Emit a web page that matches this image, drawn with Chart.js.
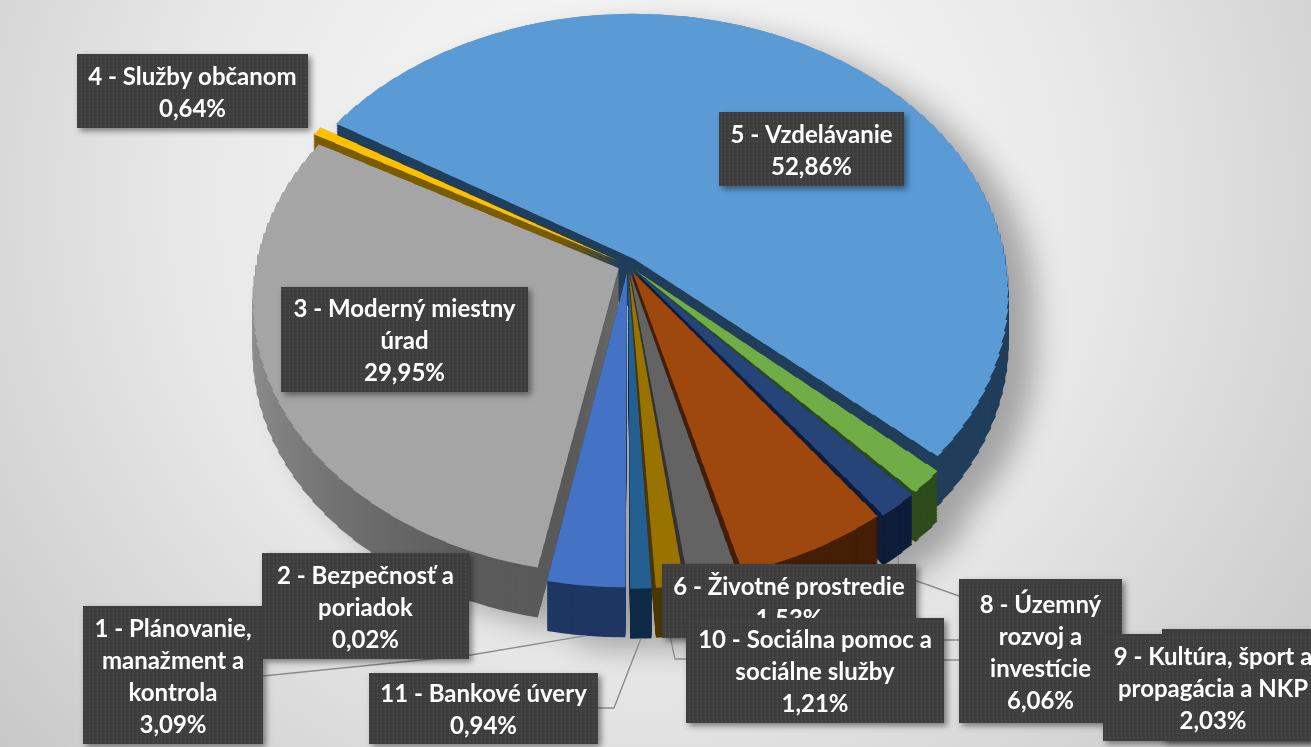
<!DOCTYPE html>
<html lang="sk">
<head>
<meta charset="utf-8">
<title>Výdavky podľa programov</title>
<script src="https://cdn.jsdelivr.net/npm/chart.js@4.4.1/dist/chart.umd.min.js"></script>
<style>
html,body{margin:0;padding:0;overflow:hidden;background:#e9e9e9;}
canvas{display:block;}
</style>
</head>
<body>
<canvas id="chart" width="1311" height="747"></canvas>
<script>
// ---------- data ----------
const categories = [
  "1 - Plánovanie,\nmanažment a\nkontrola",
  "2 - Bezpečnosť a\nporiadok",
  "3 - Moderný miestny\núrad",
  "4 - Služby občanom",
  "5 - Vzdelávanie",
  "6 - Životné prostredie",
  "7 - Doprava",
  "8 - Územný\nrozvoj a\ninvestície",
  "9 - Kultúra, šport a\npropagácia a NKP",
  "10 - Sociálna pomoc a\nsociálne služby",
  "11 - Bankové úvery"
];
const shares = [3.09, 0.02, 29.95, 0.64, 52.86, 1.53, 1.67, 6.06, 2.03, 1.21, 0.94];

// ---------- style ----------
const topColors  = ['#4472C4','#ED7D31','#A5A5A5','#FFC000','#5B9BD5','#70AD47','#264478','#9E480E','#636363','#997300','#255E91'];
const wallColors = ['#1f3763','#7b3d17','#7e7e7e','#7a5c00','#213f5b','#2e4c1d','#0f1d3b','#451f06','#363636','#4b3900','#0f2a47'];
const wallGradients = {2: ['#959595', '#5a5a5a']};
// label boxes: [left, top, width, height]
const labelBoxes = [
  [83,606,180,138], [262,553,207,106], [281,287,247,105], [77,54,231,74],
  [719,112,185,74], [662,564,254,74], [1162,629,170,112], [959,579,163,144],
  [1103,634,220,107], [686,618,258,105], [369,673,229,71]
];
// leader line bends (after the slice anchor)
const leaderPaths = {
  0: [[471,655],[263,676]],
  6: [[900,640],[1162,640]],
  7: [[917,581],[959,596]],
  8: [[725,660],[1103,660]],
  9: [[675,659],[686,659]],
  10: [[614,708],[598,708]]
};
const VIEW = {cx: 628, cy: 265, a: 362, e: 237.4, h: -0.118, depth: 50};
const EXPLODE = 40;
const FONT = 'bold 24px Lato, "Open Sans", sans-serif';
const LINE_H = 32;

function projY(v){ return (VIEW.e * v + VIEW.cy) / (1 + VIEW.h * v); }
function projX(u, v){ return VIEW.cx + VIEW.a * u / (1 + VIEW.h * v); }

const VSTART = -1.16, VSTEP = 0.04, NSTRIP = 59;

function drawStrips(ctx, el, color, g, cx0, cy0, R0) {
  const shade = Object.create(el);
  shade.options = Object.assign({}, el.options, {backgroundColor: color, borderColor: 'rgba(0,0,0,0)', borderWidth: 0});
  for (let k = 0; k < NSTRIP; k++) {
    const v0 = VSTART + k * VSTEP, v1 = v0 + VSTEP;
    if (v1 < g.vmin || v0 > g.vmax) continue;
    const vm = (v0 + v1) / 2;
    const sx = VIEW.a / (R0 * (1 + VIEW.h * vm));
    const ys0 = projY(v0), ys1 = projY(v1);
    const sy = (ys1 - ys0) / (VSTEP * R0);
    ctx.save();
    ctx.setTransform(sx, 0, 0, sy, VIEW.cx - sx * cx0, ys0 - sy * (cy0 + v0 * R0));
    ctx.beginPath();
    ctx.rect(cx0 - 3 * R0, cy0 + v0 * R0, 6 * R0, VSTEP * R0 + 1.2 / sy);
    ctx.clip();
    shade.draw(ctx);
    ctx.restore();
  }
}

function sliceGeometry(el, cx0, cy0, R0) {
  const off4 = (el.options.offset || 0) / 4;
  const s = el.startAngle, e = el.endAngle;
  const mid = (s + e) / 2;
  const ox = el.x + Math.cos(mid) * off4, oy = el.y + Math.sin(mid) * off4;
  const circ = e - s;
  const fix = 1 - Math.sin(Math.min(Math.PI, circ));
  const r = el.outerRadius + off4 * fix;
  const pts = [[ox, oy]];
  const n = 48;
  for (let k = 0; k <= n; k++) {
    const a = s + circ * k / n;
    pts.push([ox + Math.cos(a) * r, oy + Math.sin(a) * r]);
  }
  let vmin = 9, vmax = -9, x0 = 1e9, y0 = 1e9, x1 = -1e9, y1 = -1e9;
  for (const [X, Y] of pts) {
    const u = (X - cx0) / R0, v = (Y - cy0) / R0;
    vmin = Math.min(vmin, v); vmax = Math.max(vmax, v);
    const px = projX(u, v), py = projY(v);
    x0 = Math.min(x0, px); x1 = Math.max(x1, px); y0 = Math.min(y0, py); y1 = Math.max(y1, py);
  }
  const rimX = ox + Math.cos(mid) * r, rimY = oy + Math.sin(mid) * r;
  const ru = (rimX - cx0) / R0, rv = (rimY - cy0) / R0;
  return {vmin: vmin - 0.03, vmax: vmax + 0.03, x0: x0 - 4, y0: y0 - 4, x1: x1 + 4, y1: y1 + 4,
          vmid: Math.sin(mid), anchor: [projX(ru, rv), projY(rv) + VIEW.depth]};
}

let pattern = null;
function getPattern(ctx) {
  if (pattern) return pattern;
  const p = document.createElement('canvas'); p.width = 4; p.height = 4;
  const pc = p.getContext('2d');
  pc.fillStyle = '#3e3e3e'; pc.fillRect(0, 0, 4, 4);
  pc.fillStyle = '#575757'; pc.fillRect(1, 1, 1, 1);
  pattern = ctx.createPattern(p, 'repeat');
  return pattern;
}

let geoCache = [];

const pie3d = {
  id: 'pie3d',
  beforeDraw(chart) {
    const ctx = chart.ctx;
    ctx.save();
    const g = ctx.createRadialGradient(640, 200, 10, 640, 200, 900);
    g.addColorStop(0, '#fcfcfc');
    g.addColorStop(0.5, '#e8e8e8');
    g.addColorStop(1, '#c3c3c3');
    ctx.fillStyle = g;
    ctx.fillRect(0, 0, chart.width, chart.height);
    ctx.restore();
  },
  beforeDatasetsDraw(chart) {
    const els = chart.getDatasetMeta(0).data;
    const W = chart.width, Hh = chart.height;
    const off = document.createElement('canvas'); off.width = W; off.height = Hh;
    const oc = off.getContext('2d');
    const tmp = document.createElement('canvas'); tmp.width = W; tmp.height = Hh;
    const tc = tmp.getContext('2d');
    const cx0 = els[0].x, cy0 = els[0].y, R0 = els[0].outerRadius;
    const geo = els.map(el => sliceGeometry(el, cx0, cy0, R0));
    geoCache = geo;
    const order = geo.map((g, i) => i).sort((a, b) => geo[a].vmid - geo[b].vmid);
    for (const i of order) {
      const g = geo[i];
      tc.clearRect(0, 0, W, Hh);
      let wall = wallColors[i];
      if (wallGradients[i]) {
        const gr = tc.createLinearGradient(cx0 - R0, cy0, cx0 - 0.1 * R0, cy0 + 0.6 * R0);
        gr.addColorStop(0, wallGradients[i][0]);
        gr.addColorStop(1, wallGradients[i][1]);
        wall = gr;
      }
      drawStrips(tc, els[i], wall, g, cx0, cy0, R0);
      const bx = Math.max(0, Math.floor(g.x0)), by = Math.max(0, Math.floor(g.y0));
      const bw = Math.min(W, Math.ceil(g.x1)) - bx, bh = Math.min(Hh, Math.ceil(g.y1)) - by;
      if (bw > 0 && bh > 0) {
        for (let d = VIEW.depth; d > 0; d -= 1.5) {
          oc.drawImage(tmp, bx, by, bw, bh, bx, by + d, bw, bh);
        }
      }
      drawStrips(oc, els[i], topColors[i], g, cx0, cy0, R0);
    }
    const ctx = chart.ctx;
    ctx.save();
    ctx.shadowColor = 'rgba(0,0,0,0.30)';
    ctx.shadowBlur = 30;
    ctx.shadowOffsetX = 26;
    ctx.shadowOffsetY = 12;
    ctx.drawImage(off, 0, 0);
    ctx.restore();
    return false;
  },
  afterDraw(chart) {
    const ctx = chart.ctx;
    ctx.save();
    // leader lines
    ctx.strokeStyle = '#8c8c8c';
    ctx.lineWidth = 1.4;
    for (const key of Object.keys(leaderPaths)) {
      const i = +key;
      const a = geoCache[i].anchor;
      ctx.beginPath();
      ctx.moveTo(a[0], a[1]);
      for (const p of leaderPaths[key]) ctx.lineTo(p[0], p[1]);
      ctx.stroke();
    }
    // label boxes
    const pat = getPattern(ctx);
    ctx.font = FONT;
    ctx.textAlign = 'center';
    ctx.textBaseline = 'middle';
    for (let i = 0; i < categories.length; i++) {
      const [x, y, w, h] = labelBoxes[i];
      ctx.save();
      ctx.shadowColor = 'rgba(0,0,0,0.45)';
      ctx.shadowBlur = 6;
      ctx.shadowOffsetX = 3;
      ctx.shadowOffsetY = 3;
      ctx.fillStyle = '#3e3e3e';
      ctx.fillRect(x, y, w, h);
      ctx.restore();
      ctx.fillStyle = pat;
      ctx.fillRect(x, y, w, h);
      const lines = categories[i].split('\n');
      lines.push(shares[i].toFixed(2).replace('.', ',') + '%');
      const n = lines.length;
      const cxl = x + w / 2, cyl = y + h / 2 + 2;
      ctx.fillStyle = '#ffffff';
      lines.forEach((t, k) => ctx.fillText(t, cxl, cyl + (k - (n - 1) / 2) * LINE_H));
    }
    ctx.restore();
  }
};

new Chart(document.getElementById('chart'), {
  type: 'pie',
  data: {
    labels: categories.map(c => c.replace(/\n/g, ' ')),
    datasets: [{
      data: shares,
      backgroundColor: topColors,
      borderWidth: 0,
      offset: EXPLODE
    }]
  },
  options: {
    responsive: false,
    animation: false,
    events: [],
    rotation: 180,
    layout: {padding: 0},
    plugins: {legend: {display: false}, tooltip: {enabled: false}, title: {display: false}}
  },
  plugins: [pie3d]
});
</script>
</body>
</html>
